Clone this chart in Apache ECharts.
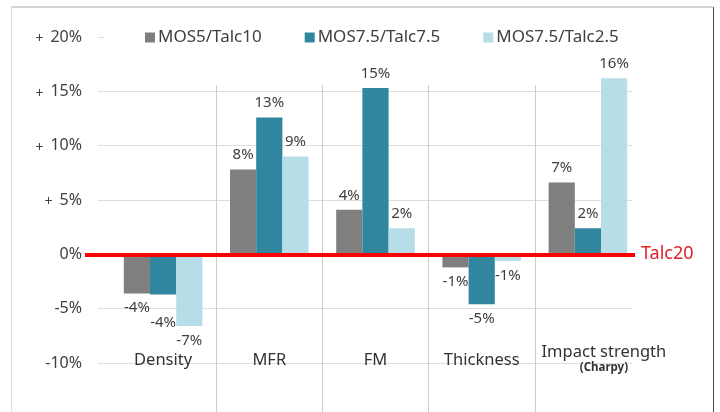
<!DOCTYPE html>
<html>
<head>
<meta charset="utf-8">
<script src="https://cdn.jsdelivr.net/npm/echarts@6/dist/echarts.min.js"></script>
<style>
  html, body { margin: 0; padding: 0; background: #ffffff; }
  #chart { width: 720px; height: 412px; }
</style>
</head>
<body>
<div id="chart"></div>
<script>
// Property changes relative to the Talc20 reference compound (%)
const categories = ['Density', 'MFR', 'FM', 'Thickness', 'Impact strength'];
const categoryNotes = ['', '', '', '', '(Charpy)'];
const seriesNames = ['MOS5/Talc10', 'MOS7.5/Talc7.5', 'MOS7.5/Talc2.5'];
const mos5Talc10 = [-3.6, 7.8, 4.1, -1.2, 6.6];
const mos75Talc75 = [-3.7, 12.6, 15.3, -4.6, 2.4];
const mos75Talc25 = [-6.6, 9.0, 2.4, -0.6, 16.2];
const yTicks = [-10, -5, 0, 5, 10, 15, 20];
const baselineName = 'Talc20';

const seriesValues = [mos5Talc10, mos75Talc75, mos75Talc25];
const colors = ['#7f7f7f', '#31869f', '#b6dde8'];
const FONT = '"Noto Sans", "Open Sans", sans-serif';
const TEXT = '#404040';

const Y_MIN = yTicks[0], Y_MAX = yTicks[yTicks.length - 1], Y_STEP = yTicks[1] - yTicks[0];

function barSeries(name, values, idx) {
  return {
    name: name,
    type: 'bar',
    xAxisIndex: 0,
    yAxisIndex: 0,
    barGap: '0%',
    barCategoryGap: '26%',
    itemStyle: { color: colors[idx] },
    z: 3,
    data: values.map(function (v, i) {
      const item = {
        value: v,
        label: { position: v >= 0 ? 'top' : 'bottom' }
      };
      // keep the two overlapping Density labels apart
      if (idx === 1 && i === 0) item.label.offset = [0, 14];
      return item;
    }),
    label: {
      show: true,
      distance: 7,
      fontFamily: FONT,
      fontSize: 15,
      color: TEXT,
      formatter: function (p) { return Math.round(p.value) + '%'; }
    }
  };
}

const chart = echarts.init(document.getElementById('chart'), null, { renderer: 'canvas' });

chart.setOption({
  animation: false,
  backgroundColor: '#ffffff',
  textStyle: { fontFamily: FONT },
  graphic: [
    { type: 'line', shape: { x1: 11, y1: 7, x2: 713, y2: 7 }, style: { stroke: '#a8a8a8', lineWidth: 1 } },
    { type: 'line', shape: { x1: 11.5, y1: 7, x2: 11.5, y2: 412 }, style: { stroke: '#dcdcdc', lineWidth: 1 } },
    { type: 'line', shape: { x1: 713.5, y1: 7, x2: 713.5, y2: 412 }, style: { stroke: '#4a4a4a', lineWidth: 1 } }
  ],
  legend: {
    data: seriesNames,
    left: 105,
    top: 26,
    padding: [3, 16, 3, 40],
    backgroundColor: '#ffffff',
    itemGap: 43,
    itemWidth: 10,
    itemHeight: 10,
    icon: 'rect',
    z: 4,
    textStyle: { fontFamily: FONT, fontSize: 17, color: TEXT, padding: [0, 0, 0, -2] }
  },
  grid: [
    { left: 110, right: 79, top: 37, bottom: 49 },   // bars
    { left: 98, right: 88, top: 37, bottom: 49 },    // horizontal grid + y labels
    { left: 110, right: 79, top: 85, bottom: 0 },    // category separators
    { left: 85, right: 85, top: 37, bottom: 49 }     // zero reference line
  ],
  xAxis: [
    {
      gridIndex: 0, type: 'category', data: categories,
      axisLine: { show: false }, axisTick: { show: false }, splitLine: { show: false },
      axisLabel: {
        interval: 0, margin: -3, verticalAlign: 'middle',
        fontFamily: FONT, fontSize: 16.5, color: '#333333', lineHeight: 15,
        formatter: function (v, i) {
          // the two-line label sits a little right of its band centre
          return categoryNotes[i]
            ? '{i|' + v + '}\n{b|' + categoryNotes[i] + '}'
            : v;
        },
        rich: {
          i: { fontFamily: FONT, fontSize: 16.5, color: '#333333', lineHeight: 15, padding: [0, 0, 0, 32] },
          b: { fontFamily: FONT, fontSize: 11.5, fontWeight: 'bold', color: '#333333', lineHeight: 15, padding: [0, 0, 0, 32] }
        }
      }
    },
    { gridIndex: 1, type: 'value', show: false, min: 0, max: 1 },
    {
      gridIndex: 2, type: 'category', data: categories,
      axisLine: { show: false }, axisTick: { show: false }, axisLabel: { show: false },
      splitLine: {
        show: true, interval: 0, showMinLine: false, showMaxLine: false,
        lineStyle: { color: '#d3ccb6', width: 1 }
      }
    },
    { gridIndex: 3, type: 'value', show: false, min: 0, max: 1 }
  ],
  yAxis: [
    { gridIndex: 0, type: 'value', min: Y_MIN, max: Y_MAX, interval: Y_STEP, show: false },
    {
      gridIndex: 1, type: 'value', min: Y_MIN, max: Y_MAX, interval: Y_STEP,
      axisLine: { show: false }, axisTick: { show: false },
      splitLine: { lineStyle: { color: '#dedede', width: 1 } },
      axisLabel: {
        margin: 16,
        fontFamily: FONT, fontSize: 16, color: TEXT,
        formatter: function (v) {
          return v > 0 ? '{p|+}{v|' + v + '%}' : '{v|' + v + '%}';
        },
        rich: {
          p: { fontFamily: FONT, fontSize: 14, color: TEXT, padding: [5, 7, 0, 0] },
          v: { fontFamily: FONT, fontSize: 16, color: TEXT }
        }
      }
    },
    { gridIndex: 2, type: 'value', show: false, min: 0, max: 1 },
    { gridIndex: 3, type: 'value', min: Y_MIN, max: Y_MAX, show: false }
  ],
  series: seriesNames.map(function (n, i) { return barSeries(n, seriesValues[i], i); }).concat([
    {
      type: 'line',
      xAxisIndex: 3,
      yAxisIndex: 3,
      data: [],
      silent: true,
      z: 10,
      markLine: {
        silent: true,
        symbol: 'none',
        z: 10,
        lineStyle: { color: '#ff0000', width: 4, type: 'solid' },
        label: {
          show: true, position: 'end', distance: 6,
          formatter: baselineName,
          fontFamily: FONT, fontSize: 18, color: '#e3202a'
        },
        data: [{ yAxis: 0 }]
      }
    }
  ])
});
</script>
</body>
</html>
